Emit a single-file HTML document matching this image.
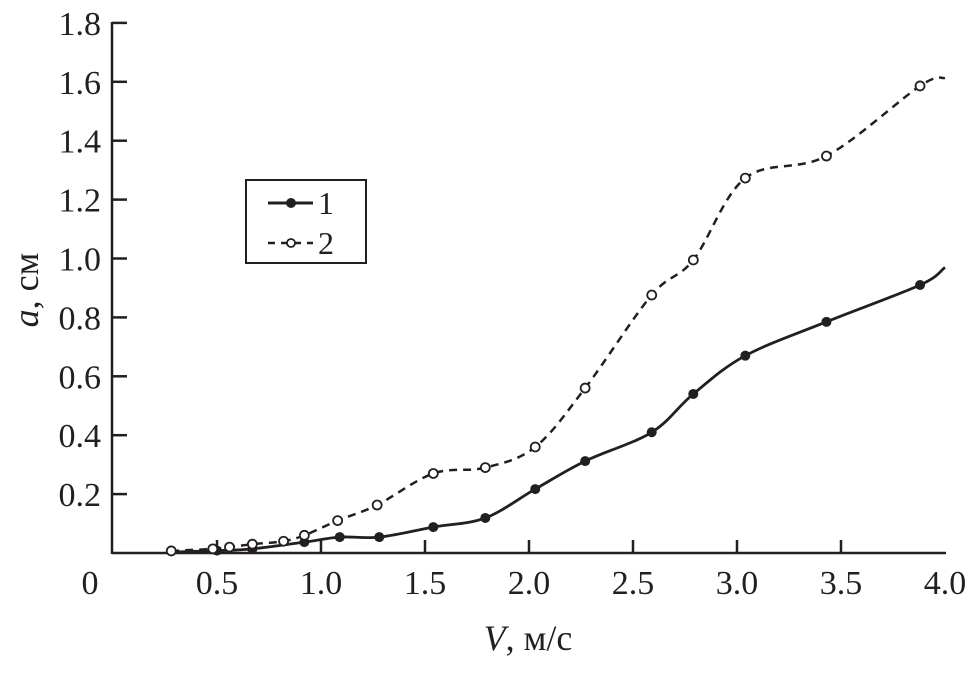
<!DOCTYPE html>
<html><head><meta charset="utf-8"><style>
body{margin:0;background:#fff}
text{font-family:'Liberation Serif','Times New Roman',serif !important;fill:#231f20}
</style></head><body>
<svg width="971" height="670" id="c" font-family="Liberation Serif, serif">
<rect width="971" height="670" fill="#fff"/>
<g id="axes"></g>
<g id="plot"></g>
<g>
<rect x="246" y="180" width="120" height="83" fill="#fff" stroke="#231f20" stroke-width="2"/>
<line x1="268" y1="203" x2="313" y2="203" stroke="#231f20" stroke-width="3"/>
<circle cx="291" cy="203" r="5" fill="#231f20"/>
<text x="318" y="214" font-size="32">1</text>
<line x1="268" y1="243" x2="313" y2="243" stroke="#231f20" stroke-width="2.5" stroke-dasharray="7,6"/>
<circle cx="291" cy="243" r="4" fill="#fff" stroke="#231f20" stroke-width="1.8"/>
<text x="318" y="254" font-size="32">2</text>
</g>
<text x="528" y="650" font-size="36" text-anchor="middle"><tspan font-style="italic">V</tspan>, м/с</text>
<text transform="translate(38,290) rotate(-90)" font-size="36" text-anchor="middle"><tspan font-style="italic">a</tspan>, см</text>
</svg>
<script>
const xTicks=[0,0.5,1.0,1.5,2.0,2.5,3.0,3.5,4.0];
const yTicks=[0.2,0.4,0.6,0.8,1.0,1.2,1.4,1.6,1.8];
const s1V=[0.28,0.5,0.67,0.92,1.09,1.28,1.54,1.79,2.03,2.27,2.59,2.79,3.04,3.43,3.88,4.0];
const s1A=[0.003,0.008,0.014,0.037,0.054,0.054,0.088,0.119,0.217,0.312,0.41,0.54,0.67,0.785,0.91,0.97];
const s2V=[0.28,0.48,0.56,0.67,0.82,0.92,1.08,1.27,1.54,1.79,2.03,2.27,2.59,2.79,3.04,3.43,3.88,4.0];
const s2A=[0.007,0.014,0.02,0.03,0.04,0.06,0.11,0.163,0.27,0.29,0.36,0.56,0.876,0.995,1.273,1.348,1.586,1.613];
const X=v=>113+v*208, Y=a=>553-a*294.5;
const NS="http://www.w3.org/2000/svg";
function mk(t,at,p){const e=document.createElementNS(NS,t);for(const k in at)e.setAttribute(k,at[k]);p.appendChild(e);return e;}
const ax=document.getElementById('axes'),pl=document.getElementById('plot');
let e=mk('line',{x1:112,y1:553,x2:946,y2:553,stroke:'#231f20','stroke-width':2.5},ax);


e=mk('line',{x1:112,y1:22,x2:112,y2:554,stroke:'#231f20','stroke-width':2.5},ax);


xTicks.forEach(v=>{
 if(v>0&&v<4){mk('line',{x1:X(v),y1:553,x2:X(v),y2:540,stroke:'#231f20','stroke-width':2.5},ax);}
 const t=mk('text',{x:v===0?90:X(v),y:594,'font-size':34,'text-anchor':'middle'},ax);t.textContent=v===0?'0':v.toFixed(1);
 
 
});
yTicks.forEach(a=>{
 mk('line',{x1:112,y1:Y(a),x2:127,y2:Y(a),stroke:'#231f20','stroke-width':2.5},ax);
 const t=mk('text',{x:101,y:Y(a)+12,'font-size':34,'text-anchor':'end'},ax);t.textContent=a.toFixed(1);
 
 
});
function path(V,A){const p=V.map((v,i)=>[X(v),Y(A[i])]);let d='M'+p[0];
 for(let i=0;i<p.length-1;i++){const p0=p[i-1]||p[i],p1=p[i],p2=p[i+1],p3=p[i+2]||p2;
 d+=' C'+(p1[0]+(p2[0]-p0[0])/6)+','+(p1[1]+(p2[1]-p0[1])/6)+' '+(p2[0]-(p3[0]-p1[0])/6)+','+(p2[1]-(p3[1]-p1[1])/6)+' '+p2;}
 return d;}
e=mk('path',{d:path(s2V,s2A),fill:'none',stroke:'#231f20','stroke-width':2.5,'stroke-dasharray':'8,6'},pl);


e=mk('path',{d:path(s1V,s1A),fill:'none',stroke:'#231f20','stroke-width':2.8},pl);


s1V.forEach((v,i)=>{if(i===0||i===s1V.length-1)return;
 const c=mk('circle',{cx:X(v),cy:Y(s1A[i]),r:5,fill:'#231f20'},pl);
 
 });
s2V.forEach((v,i)=>{if(i===s2V.length-1)return;
 const c=mk('circle',{cx:X(v),cy:Y(s2A[i]),r:4.5,fill:'#fff',stroke:'#231f20','stroke-width':1.8},pl);
 
 });
</script>
</body></html>
